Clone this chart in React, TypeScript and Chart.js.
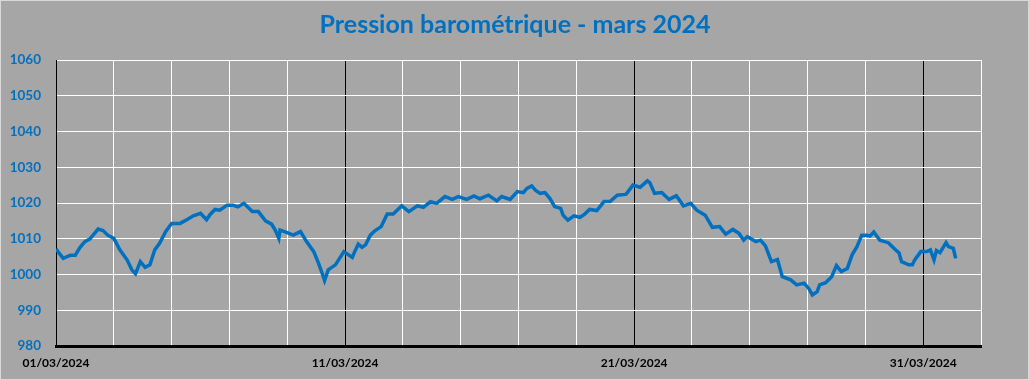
import React, { useEffect, useRef } from "react";
import { Chart, registerables } from "chart.js";

Chart.register(...registerables);

const chartTitle = "Pression barométrique - mars 2024";
const dateLabels = ["01/03/2024", "11/03/2024", "21/03/2024", "31/03/2024"];
const dateLabelHours = [0, 240, 480, 720];

// hours since 01/03/2024 00:00
const hours = [
  0, 6, 12, 16, 20, 24, 28, 35, 39, 43, 48, 53, 59, 63, 66, 70, 74, 78, 82, 86,
  91, 96, 103, 109, 114, 120, 125, 128, 132, 136, 142, 147, 151, 156, 163, 168, 174, 179, 182, 185,
  186, 192, 197, 203, 208, 214, 218, 221, 223, 226, 232, 239, 246, 248, 251, 254, 257, 261, 265, 270,
  275, 280, 287, 293, 300, 305, 311, 316, 323, 329, 334, 341, 347, 352, 359, 366, 370, 377, 383, 388,
  391, 395, 398, 402, 406, 410, 414, 419, 421, 425, 430, 435, 439, 443, 449, 455, 460, 466, 473, 475,
  479, 485, 491, 493, 497, 503, 509, 515, 521, 527, 532, 539, 545, 551, 556, 562, 567, 571, 574, 581,
  585, 589, 594, 599, 603, 610, 615, 621, 625, 628, 632, 634, 639, 644, 648, 652, 657, 661, 665, 669,
  673, 676, 679, 684, 691, 697, 700, 702, 708, 711, 713, 718, 723, 726, 729, 731, 734, 739, 741, 745,
  747,
];

const pressure = [
  1007.1, 1004.5, 1005.4, 1005.4, 1007.6, 1009.2, 1009.9, 1012.7, 1012.3, 1011.0, 1010.1, 1006.9, 1004.1, 1001.3, 1000.2, 1003.6, 1002.0, 1002.7, 1006.9, 1008.7,
  1012.0, 1014.3, 1014.3, 1015.4, 1016.4, 1017.1, 1015.3, 1016.8, 1018.2, 1018.0, 1019.4, 1019.4, 1018.9, 1019.9, 1017.6, 1017.6, 1015.0, 1014.1, 1012.4, 1010.1,
  1012.4, 1011.7, 1011.0, 1012.0, 1009.2, 1006.4, 1003.1, 1000.3, 998.3, 1001.3, 1002.7, 1006.4, 1004.8, 1006.4, 1008.5, 1007.6, 1008.3, 1011.0, 1012.3, 1013.4,
  1016.9, 1016.9, 1019.2, 1017.6, 1019.2, 1018.8, 1020.4, 1019.9, 1021.8, 1021.0, 1021.8, 1021.0, 1022.0, 1021.2, 1022.2, 1020.6, 1021.8, 1021.0, 1023.2, 1022.9,
  1024.1, 1024.8, 1023.6, 1022.7, 1022.9, 1021.3, 1019.0, 1018.5, 1016.6, 1015.2, 1016.4, 1016.0, 1016.9, 1018.2, 1017.9, 1020.4, 1020.4, 1022.2, 1022.4, 1023.2,
  1025.0, 1024.4, 1026.2, 1025.7, 1022.7, 1022.9, 1021.0, 1022.0, 1019.2, 1019.9, 1018.0, 1016.6, 1013.2, 1013.4, 1011.3, 1012.6, 1011.5, 1009.6, 1010.6, 1009.2,
  1009.6, 1008.0, 1003.6, 1004.2, 999.4, 998.5, 997.1, 997.6, 996.1, 994.3, 995.2, 997.1, 997.7, 999.4, 1002.5, 1000.8, 1001.7, 1005.5, 1007.8, 1011.0,
  1011.0, 1010.8, 1011.9, 1009.6, 1008.9, 1006.9, 1006.0, 1003.6, 1002.7, 1002.7, 1004.1, 1006.4, 1006.4, 1006.9, 1004.1, 1006.7, 1006.1, 1008.9, 1007.8, 1007.3,
  1004.5,
];

const yTicks = [980, 990, 1000, 1010, 1020, 1030, 1040, 1050, 1060];

const W = 1029;
const H = 380;

const framePlugin = {
  id: "frame",
  beforeDraw(chart: any) {
    const ctx = chart.ctx;
    ctx.save();
    ctx.fillStyle = "#a6a6a6";
    ctx.fillRect(0, 0, W, H);
    ctx.strokeStyle = "#d9d9d9";
    ctx.lineWidth = 1;
    ctx.strokeRect(0.5, 0.5, W - 1, H - 1);
    ctx.restore();
  },
  afterDraw(chart: any) {
    const ctx = chart.ctx;
    ctx.save();
    ctx.fillStyle = "#0070c0";
    ctx.font = "bold 25px Lato";
    ctx.textAlign = "center";
    ctx.textBaseline = "middle";
    ctx.fillText(chartTitle, 515, 25);
    const xs = chart.scales.x;
    ctx.fillStyle = "#000000";
    ctx.font = "bold 12px Lato";
    dateLabels.forEach((lab, i) => {
      ctx.fillText(lab, xs.getPixelForValue(dateLabelHours[i]), chart.chartArea.bottom + 17);
    });
    ctx.restore();
  },
};

export default function App() {
  const ref = useRef<HTMLCanvasElement>(null);
  useEffect(() => {
    document.body.style.margin = "0";
    const data = hours.map((h, i) => ({ x: h, y: pressure[i] }));
    const chart = new Chart(ref.current!, {
      type: "line",
      data: {
        datasets: [
          {
            data,
            borderColor: "#0070c0",
            borderWidth: 3.5,
            pointRadius: 0,
            tension: 0,
            fill: false,
          },
        ],
      },
      plugins: [framePlugin],
      options: {
        animation: false,
        responsive: false,
        events: [],
        layout: { padding: { top: 60, right: 48, left: 0, bottom: 0 } },
        plugins: { legend: { display: false }, tooltip: { enabled: false }, title: { display: false } },
        scales: {
          x: {
            type: "linear",
            min: 0,
            max: 768,
            afterFit: (s: any) => { s.height = 34; s.paddingLeft = 0; s.paddingRight = 0; },
            afterBuildTicks: (s: any) => {
              const t = [];
              for (let v = 0; v <= 768; v += 48) t.push({ value: v });
              s.ticks = t;
            },
            ticks: { display: false },
            grid: {
              drawTicks: false,
              lineWidth: 1,
              color: (c: any) => (c.tick && c.tick.value % 240 === 0 ? "#000000" : "#ffffff"),
            },
            border: { display: true, color: "#000000", width: 3 },
          },
          y: {
            min: 980,
            max: 1060,
            afterFit: (s: any) => { s.width = 56; },
            afterBuildTicks: (s: any) => { s.ticks = yTicks.map((v) => ({ value: v })); },
            ticks: {
              padding: 15,
              color: "#0070c0",
              font: { family: "Lato", weight: "bold", size: 13.5 },
              callback: (v: any) => String(v),
            },
            grid: { drawTicks: false, color: "#ffffff", lineWidth: 1 },
            border: { display: true, color: "#000000", width: 1 },
          },
        },
      },
    } as any);
    return () => chart.destroy();
  }, []);
  return <canvas ref={ref} width={W} height={H} style={{ display: "block", width: W, height: H }} />;
}
